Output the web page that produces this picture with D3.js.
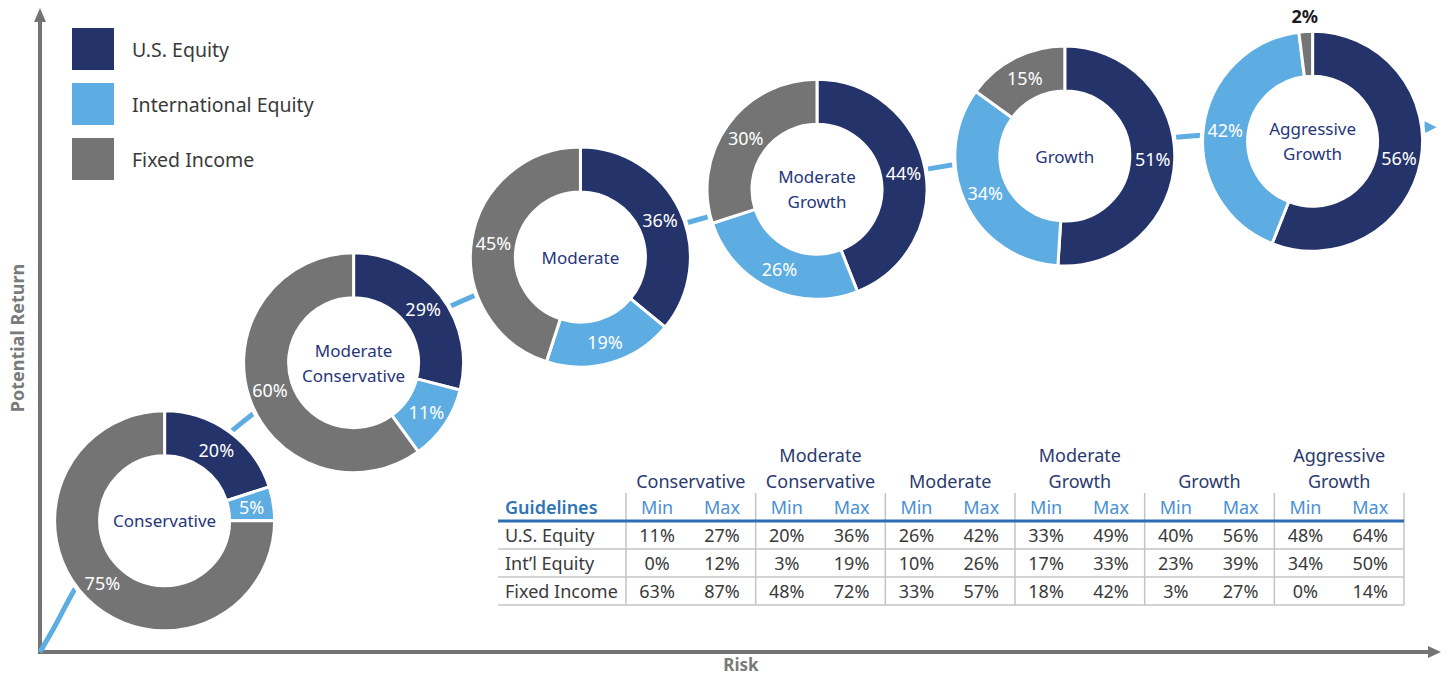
<!DOCTYPE html>
<html>
<head>
<meta charset="utf-8">
<script src="https://cdn.jsdelivr.net/npm/d3@7"></script>
<style>
  body { margin: 0; background: #fff; }
  text { font-family: "Noto Sans", sans-serif; }
</style>
</head>
<body>
<div id="chart"></div>
<script>
// Allocation profiles and their mixes (%)
const profiles = ["Conservative", "Moderate Conservative", "Moderate", "Moderate Growth", "Growth", "Aggressive Growth"];
const usEquity = [20, 29, 36, 44, 51, 56];
const intlEquity = [5, 11, 19, 26, 34, 42];
const fixedIncome = [75, 60, 45, 30, 15, 2];

// where each donut sits on the risk / return plane (0-100)
const riskPos = [8.9, 22.4, 38.6, 55.5, 73.2, 90.9];
const returnPos = [20.5, 45.2, 61.7, 72.3, 77.5, 79.8];

// risk / return trend curve
const trendRisk = [0, 0.9, 2.4, 8.5, 14.4, 30.1, 46.9, 64.3, 82.0, 98.9];
const trendReturn = [0, 3.4, 9.5, 24, 35.8, 54.8, 67.5, 75.8, 80.6, 82.0];

const assetClasses = ["U.S. Equity", "International Equity", "Fixed Income"];

// Guidelines table
const guideRows = ["U.S. Equity", "Int’l Equity", "Fixed Income"];
const usMinMax = [[11, 27], [20, 36], [26, 42], [33, 49], [40, 56], [48, 64]];
const intlMinMax = [[0, 12], [3, 19], [10, 26], [17, 33], [23, 39], [34, 50]];
const fixedMinMax = [[63, 87], [48, 72], [33, 57], [18, 42], [3, 27], [0, 14]];

const navy = "#243369", sky = "#5DADE2", grey = "#747474";
const color = d3.scaleOrdinal().domain(assetClasses).range([navy, sky, grey]);

const W = 1452, H = 676;
const svg = d3.select("#chart").append("svg")
    .attr("width", W).attr("height", H);

const x = d3.scaleLinear().domain([0, 100]).range([40, 1440]);
const y = d3.scaleLinear().domain([0, 100]).range([652, 12]);

// Axes with arrow heads
const axisG = svg.append("g");
axisG.append("line")
    .attr("x1", x(0)).attr("y1", y(0) + 2).attr("x2", x(0)).attr("y2", y(100) + 8)
    .attr("stroke", grey).attr("stroke-width", 4);
axisG.append("path")
    .attr("d", `M${x(0) - 6},${y(100) + 10} L${x(0)},${y(100) - 4} L${x(0) + 6},${y(100) + 10} Z`)
    .attr("fill", grey);
axisG.append("line")
    .attr("x1", x(0) - 2).attr("y1", y(0)).attr("x2", x(100) - 10).attr("y2", y(0))
    .attr("stroke", grey).attr("stroke-width", 4);
axisG.append("path")
    .attr("d", `M${x(100) - 12},${y(0) - 6} L${x(100) + 1},${y(0)} L${x(100) - 12},${y(0) + 6} Z`)
    .attr("fill", grey);

svg.append("text")
    .attr("transform", `translate(17,338) rotate(-90)`)
    .attr("text-anchor", "middle").attr("dominant-baseline", "central")
    .attr("font-size", 18).attr("font-weight", "bold").attr("fill", "#7a7a7a")
    .text("Potential Return");
svg.append("text")
    .attr("x", 741).attr("y", 671)
    .attr("text-anchor", "middle")
    .attr("font-size", 17).attr("font-weight", "bold").attr("fill", "#7a7a7a")
    .text("Risk");

// Trend line
const trend = d3.line()
    .x(d => x(d[0])).y(d => y(d[1]))
    .curve(d3.curveMonotoneX);
const trendPts = trendRisk.map((r, i) => [r, trendReturn[i]]);
svg.append("path")
    .attr("d", trend(trendPts))
    .attr("fill", "none").attr("stroke", sky).attr("stroke-width", 5);
const last = trendPts[trendPts.length - 1];
svg.append("path")
    .attr("d", `M${x(last[0])},${y(last[1]) - 6} L${x(last[0]) + 12},${y(last[1])} L${x(last[0])},${y(last[1]) + 6} Z`)
    .attr("fill", sky);

// Donuts
const rOuter = 110, rInner = 65;
const pie = d3.pie().sort(null).value(d => d.value);
const arc = d3.arc().innerRadius(rInner).outerRadius(rOuter);
const labelArc = d3.arc().innerRadius(88).outerRadius(88);
const outsideArc = d3.arc().innerRadius(rOuter + 16).outerRadius(rOuter + 16);

profiles.forEach((p, i) => {
  const g = svg.append("g")
      .attr("transform", `translate(${x(riskPos[i])},${y(returnPos[i])})`);
  g.append("circle").attr("r", rOuter + 3).attr("fill", "#fff");

  const slices = pie([
    { key: assetClasses[0], value: usEquity[i] },
    { key: assetClasses[1], value: intlEquity[i] },
    { key: assetClasses[2], value: fixedIncome[i] }
  ]);

  g.selectAll("path")
    .data(slices)
    .join("path")
      .attr("d", arc)
      .attr("fill", d => color(d.data.key))
      .attr("stroke", "#fff").attr("stroke-width", 3);

  g.selectAll("text.pct")
    .data(slices)
    .join("text")
      .attr("class", "pct")
      .attr("transform", d => `translate(${(d.data.value < 5 ? outsideArc : labelArc).centroid(d)})`)
      .attr("text-anchor", "middle").attr("dominant-baseline", "central")
      .attr("font-size", 18)
      .attr("font-weight", d => d.data.value < 5 ? "bold" : "normal")
      .attr("fill", d => d.data.value < 5 ? "#1a1a1a" : "#fff")
      .text(d => d.data.value + "%");

  const words = p.split(" ");
  const lines = words.length > 1 ? [words[0], words.slice(1).join(" ")] : [p];
  g.selectAll("text.name")
    .data(lines)
    .join("text")
      .attr("class", "name")
      .attr("y", (d, j) => (j - (lines.length - 1) / 2) * 25)
      .attr("text-anchor", "middle").attr("dominant-baseline", "central")
      .attr("font-size", 17).attr("fill", "#27367a")
      .text(d => d);
});

// Legend
const legend = svg.append("g").attr("transform", "translate(72,28)");
assetClasses.forEach((a, i) => {
  legend.append("rect")
    .attr("x", 0).attr("y", i * 55).attr("width", 42).attr("height", 42)
    .attr("fill", color(a));
  legend.append("text")
    .attr("x", 60).attr("y", i * 55 + 21)
    .attr("dominant-baseline", "central")
    .attr("font-size", 19.5).attr("fill", "#3a3a3a")
    .text(a);
});

// Guidelines table
const tbl = svg.append("g");
const tLeft = 498, tRight = 1404, tTop = 493, headLine = 521;
const gx = d3.scaleBand().domain(profiles).range([626, tRight]);
const ry = d3.scaleBand().domain(guideRows).range([headLine, 605]);
const rowVals = [usMinMax, intlMinMax, fixedMinMax];
const sub = [0.24, 0.74];

// grid lines
tbl.selectAll("line.v")
  .data(profiles.map(p => gx(p)).concat([tRight]))
  .join("line")
    .attr("x1", d => d).attr("x2", d => d)
    .attr("y1", tTop).attr("y2", ry.range()[1])
    .attr("stroke", "#c4c4c4").attr("stroke-width", 1.5);
tbl.selectAll("line.h")
  .data(guideRows)
  .join("line")
    .attr("x1", tLeft).attr("x2", tRight)
    .attr("y1", d => ry(d) + ry.bandwidth()).attr("y2", d => ry(d) + ry.bandwidth())
    .attr("stroke", "#c4c4c4").attr("stroke-width", 1.5);
tbl.append("line")
    .attr("x1", tLeft).attr("x2", tRight).attr("y1", headLine).attr("y2", headLine)
    .attr("stroke", "#2e6db4").attr("stroke-width", 3);

// header
tbl.append("text")
    .attr("x", 505).attr("y", 507)
    .attr("dominant-baseline", "central")
    .attr("font-size", 18).attr("font-weight", 600).attr("fill", "#2e75b6")
    .text("Guidelines");
profiles.forEach(p => {
  const words = p.split(" ");
  const lines = words.length > 1 ? [words[0], words.slice(1).join(" ")] : [p];
  lines.forEach((l, j) => {
    tbl.append("text")
      .attr("x", gx(p) + gx.bandwidth() / 2)
      .attr("y", 481 - (lines.length - 1 - j) * 26)
      .attr("text-anchor", "middle").attr("dominant-baseline", "central")
      .attr("font-size", 18).attr("fill", "#2b3a6e")
      .text(l);
  });
  ["Min", "Max"].forEach((m, k) => {
    tbl.append("text")
      .attr("x", gx(p) + gx.bandwidth() * sub[k])
      .attr("y", 507)
      .attr("text-anchor", "middle").attr("dominant-baseline", "central")
      .attr("font-size", 18).attr("fill", "#4a90d4")
      .text(m);
  });
});

// body
guideRows.forEach((r, ri) => {
  const cy = ry(r) + ry.bandwidth() / 2;
  tbl.append("text")
    .attr("x", 505).attr("y", cy)
    .attr("dominant-baseline", "central")
    .attr("font-size", 18).attr("fill", "#3a3a3a")
    .text(r);
  profiles.forEach((p, pi) => {
    rowVals[ri][pi].forEach((v, k) => {
      tbl.append("text")
        .attr("x", gx(p) + gx.bandwidth() * sub[k])
        .attr("y", cy)
        .attr("text-anchor", "middle").attr("dominant-baseline", "central")
        .attr("font-size", 18).attr("fill", "#3a3a3a")
        .text(v + "%");
    });
  });
});
</script>
</body>
</html>
